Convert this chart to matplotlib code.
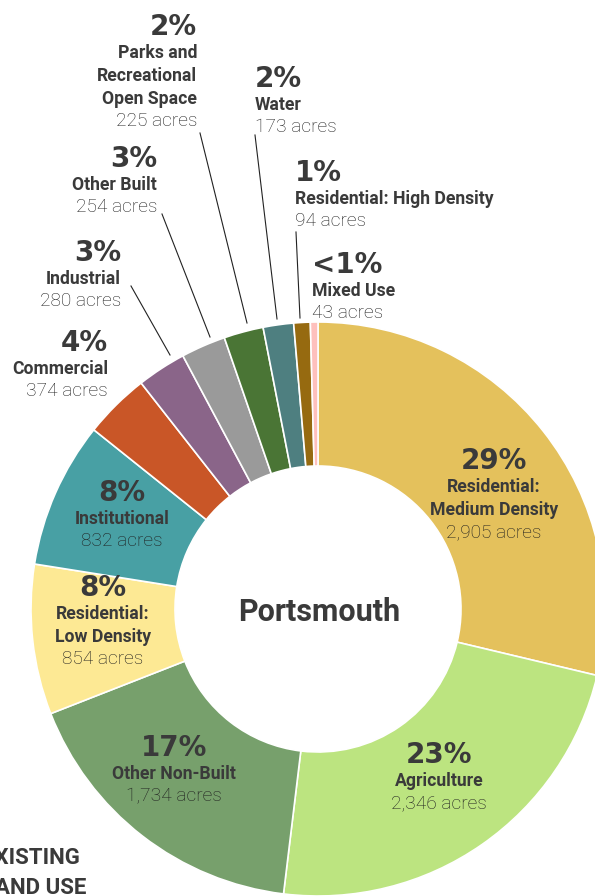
import matplotlib
matplotlib.use("Agg")
import matplotlib.pyplot as plt

# land use data, clockwise from 12 o'clock
categories = ["Residential:\nMedium Density", "Agriculture", "Other Non-Built",
              "Residential:\nLow Density", "Institutional", "Commercial", "Industrial",
              "Other Built", "Parks and\nRecreational\nOpen Space", "Water",
              "Residential: High Density", "Mixed Use"]
acres = [2905, 2346, 1734, 854, 832, 374, 280, 254, 225, 173, 94, 43]
pct_labels = ["29%", "23%", "17%", "8%", "8%", "4%", "3%", "3%", "2%", "2%", "1%", "<1%"]
colors = ["#E4C15C", "#BCE480", "#77A06C", "#FDE994", "#48A0A4", "#C95627",
          "#8A6589", "#9A9A9A", "#4A7535", "#4E7F80", "#966A10", "#FEC0BD"]

# label layout in pixels: (x, y of percent, alignment)
label_pos = [(494, 461, "center"), (439, 755, "center"), (174, 748, "center"),
             (103, 588, "center"), (122, 493, "center"), (108, 343, "right"),
             (121, 253, "right"), (157, 159, "right"), (197, 27, "right"),
             (255, 79, "left"), (295, 173, "left"), (312, 265, "left")]
leaders = {6: ((131, 286), (170, 355)), 7: ((162, 214), (210, 337)),
           8: ((200, 133), (247, 323)), 9: ((255, 135), (277, 319)),
           10: ((296, 232), (300, 318))}

TXT = "#3a3a3a"
FONT = ["Roboto", "DejaVu Sans"]

fig = plt.figure(figsize=(5.95, 8.96), dpi=100)
ax = fig.add_axes([0, 0, 1, 1])

# y axis runs downward, so counterclockwise in data = clockwise on screen
ax.pie(acres, colors=colors, radius=287, center=(318, 609), startangle=-90,
       counterclock=True,
       wedgeprops=dict(width=144, edgecolor="white", linewidth=1.2))
ax.set_xlim(0, 595)
ax.set_ylim(896, 0)
ax.set_aspect("equal")
ax.axis("off")

for i, (x, y, ha) in enumerate(label_pos):
    ax.text(x, y, pct_labels[i], ha=ha, va="center", fontsize=20,
            fontweight="bold", color=TXT, family="DejaVu Sans")
    lines = categories[i].split("\n")
    yy = y + 26
    for ln in lines:
        ax.text(x, yy, ln, ha=ha, va="center", fontsize=12.7,
                fontweight="bold", color=TXT, family=FONT)
        yy += 23
    ax.text(x, yy - 1, f"{acres[i]:,} acres", ha=ha, va="center", fontsize=13.8,
            fontweight="light", color="#1e1e1e", family=FONT)

for (x0, y0), (x1, y1) in leaders.values():
    ax.plot([x0, x1], [y0, y1], color="#222222", lw=0.8)

ax.text(319, 612, "Portsmouth", ha="center", va="center", fontsize=22,
        fontweight="bold", color=TXT, family=FONT)

ax.text(81, 858, "EXISTING", ha="right", va="center", fontsize=16,
        fontweight="bold", color=TXT, family=FONT)
ax.text(86, 888, "LAND USE", ha="right", va="center", fontsize=16,
        fontweight="bold", color=TXT, family=FONT)

fig.savefig("out.png", dpi=100)
